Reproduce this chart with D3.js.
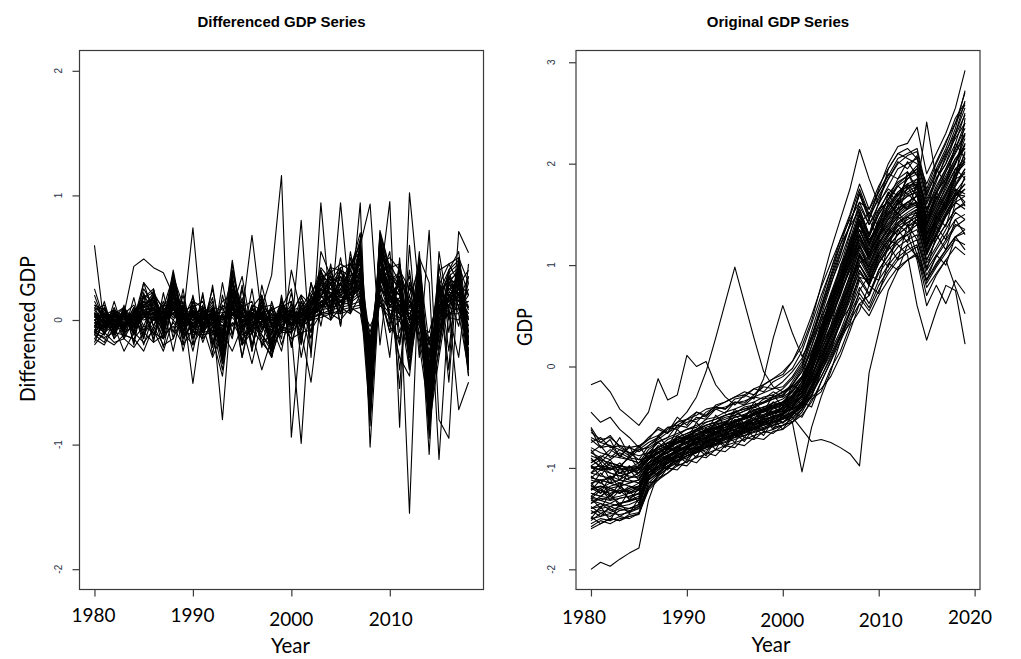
<!DOCTYPE html>
<html><head><meta charset="utf-8">
<script src="https://cdn.jsdelivr.net/npm/d3@7"></script>
<style>body{margin:0;background:#fff}</style>
</head><body>
<svg id="c" width="1021" height="659"></svg>
<script>
// ---------------- DATA ----------------
const diffYears = [1980,1981,1982,1983,1984,1985,1986,1987,1988,1989,1990,1991,1992,1993,1994,1995,1996,1997,1998,1999,2000,2001,2002,2003,2004,2005,2006,2007,2008,2009,2010,2011,2012,2013,2014,2015,2016,2017,2018];
const gdpYears = [1980,1981,1982,1983,1984,1985,1986,1987,1988,1989,1990,1991,1992,1993,1994,1995,1996,1997,1998,1999,2000,2001,2002,2003,2004,2005,2006,2007,2008,2009,2010,2011,2012,2013,2014,2015,2016,2017,2018,2019];

const diffTicks = [-2,-1,0,1,2];
const gdpTicks = [-2,-1,0,1,2,3];
const diffYearTicks = [1980,1990,2000,2010];
const gdpYearTicks = [1980,1990,2000,2010,2020];

// Differenced GDP series (one array per country)
const diffSeries = [
[0.05,-0.02,0.03,-0.05,0.02,0.15,0.10,0.00,0.25,0.02,0.05,-0.03,0.04,-0.10,0.20,0.00,0.03,-0.02,0.05,0.02,-0.05,0.03,0.08,0.20,0.25,0.22,0.30,0.45,-0.55,0.50,0.25,0.15,-0.05,0.20,-0.60,0.05,0.25,0.30,-0.10],
[-0.05,0.03,-0.04,0.02,-0.06,0.05,0.08,-0.05,0.15,-0.02,0.06,0.02,-0.05,0.05,0.12,-0.05,0.02,0.05,-0.08,0.04,0.02,-0.03,0.05,0.15,0.18,0.25,0.20,0.35,-0.40,0.40,0.18,0.05,0.10,0.05,-0.45,0.10,0.18,0.15,0.05],
[0.10,-0.05,0.00,0.04,-0.03,0.02,0.20,0.03,0.30,0.05,-0.04,0.06,0.02,-0.20,0.30,0.05,-0.05,0.04,-0.15,0.06,0.03,0.05,0.10,0.28,0.20,0.30,0.25,0.55,-0.70,0.60,0.30,0.20,-0.15,0.25,-0.75,-0.05,0.30,0.40,-0.25],
[-0.10,0.02,-0.06,-0.02,0.05,0.08,0.04,-0.02,0.10,0.00,0.02,-0.05,0.06,0.02,0.05,0.02,0.05,-0.04,0.02,-0.02,0.05,0.00,0.02,0.10,0.12,0.15,0.18,0.25,-0.25,0.30,0.10,0.12,0.02,0.10,-0.30,0.15,0.12,0.20,0.10],
[0.02,0.05,-0.02,0.03,-0.05,0.20,0.15,-0.06,0.35,-0.04,0.08,-0.02,0.05,-0.25,0.35,-0.03,0.06,0.00,-0.10,0.08,-0.02,0.04,0.12,0.35,0.30,0.35,0.28,0.60,-0.75,0.65,0.35,0.25,-0.10,0.30,-0.85,0.00,0.35,0.42,-0.30],
[-0.08,-0.06,0.04,-0.04,0.00,0.04,0.06,0.02,0.05,0.03,-0.02,0.03,0.00,0.04,0.08,0.04,-0.02,0.03,0.00,-0.04,0.02,0.05,0.04,0.08,0.10,0.12,0.14,0.20,-0.20,0.25,0.15,0.08,0.05,0.08,-0.25,0.08,0.15,0.12,0.15],
[0.15,0.00,-0.08,0.06,-0.02,0.10,0.12,-0.04,0.20,-0.06,0.04,0.05,-0.04,-0.15,0.25,0.03,0.05,-0.06,-0.05,0.00,0.04,-0.04,0.06,0.22,0.28,0.18,0.35,0.40,-0.60,0.55,0.20,0.30,-0.20,0.15,-0.70,0.12,0.22,0.35,-0.15],
[-0.02,-0.08,0.06,0.00,0.04,0.02,0.02,0.05,0.08,0.02,0.00,-0.04,0.03,0.00,0.05,-0.02,0.04,0.02,0.03,0.05,-0.03,0.02,0.03,0.05,0.08,0.10,0.12,0.15,-0.10,0.20,0.08,0.05,0.08,0.03,-0.20,0.05,0.10,0.08,0.20],
[0.00,0.06,-0.05,-0.08,0.06,0.12,0.18,-0.08,0.28,0.04,0.06,0.08,-0.02,-0.08,0.18,0.06,-0.04,0.02,-0.20,-0.02,0.06,0.06,0.15,0.30,0.15,0.28,0.22,0.50,-0.50,0.45,0.28,0.10,-0.08,0.28,-0.55,-0.10,0.28,0.28,-0.35],
[-0.12,0.04,0.02,0.06,-0.04,0.06,0.05,0.00,0.12,-0.03,0.03,0.00,0.06,-0.05,0.10,0.00,0.00,0.06,-0.04,0.02,0.00,0.02,0.04,0.12,0.15,0.20,0.15,0.30,-0.35,0.35,0.12,0.18,0.00,0.12,-0.40,0.18,0.20,0.18,0.00],
[0.08,-0.04,0.05,-0.06,0.03,0.18,0.22,-0.03,0.32,0.06,-0.06,0.04,0.08,-0.30,0.40,0.04,0.02,-0.03,-0.12,0.10,0.05,-0.02,0.10,0.25,0.35,0.28,0.40,0.62,-0.65,0.70,0.40,0.22,-0.25,0.35,-0.80,0.15,0.38,0.45,-0.40],
[-0.05,0.00,-0.03,0.05,0.02,0.00,0.03,0.04,0.05,-0.04,0.02,0.02,-0.03,0.03,0.04,0.03,0.04,0.00,0.04,0.02,0.03,0.00,0.00,0.06,0.05,0.08,0.10,0.12,-0.15,0.15,0.05,0.02,0.12,0.00,-0.15,0.02,0.05,0.05,0.25],
[0.03,0.02,0.06,0.02,-0.08,0.08,0.10,-0.05,0.18,0.00,0.08,-0.06,0.02,-0.12,0.22,-0.04,0.08,0.03,-0.06,0.04,-0.04,0.08,0.06,0.18,0.22,0.25,0.32,0.42,-0.45,0.48,0.22,0.28,-0.02,0.22,-0.50,-0.15,0.22,0.22,-0.20],
[-0.15,-0.03,0.00,-0.03,0.04,0.03,0.00,0.02,0.06,0.05,-0.03,0.06,0.04,0.06,0.06,0.05,-0.03,0.05,-0.02,0.00,0.06,0.04,0.02,0.04,0.06,0.05,0.08,0.10,-0.05,0.12,0.02,0.00,0.15,-0.05,-0.10,0.20,0.02,0.00,0.30],
[0.12,0.08,-0.06,0.08,0.00,0.25,0.12,-0.08,0.22,0.08,0.02,0.10,-0.06,-0.18,0.28,0.08,0.06,-0.05,-0.08,0.06,0.08,-0.06,0.14,0.32,0.25,0.38,0.30,0.50,-0.80,0.58,0.32,0.35,-0.18,0.40,-0.65,0.20,0.32,0.38,-0.45],
[-0.06,-0.06,0.02,0.00,0.06,0.05,0.08,0.06,0.10,-0.02,0.05,-0.02,0.02,0.02,0.08,0.02,0.02,0.04,0.02,0.00,0.00,0.06,0.08,0.14,0.18,0.16,0.22,0.28,-0.30,0.35,0.18,0.15,0.05,0.15,-0.35,0.05,0.15,0.25,0.08],
[0.06,-0.10,0.04,-0.02,-0.02,0.12,0.16,0.00,0.26,-0.05,-0.02,0.00,0.04,-0.22,0.32,0.00,-0.02,0.05,-0.18,0.08,-0.03,0.00,0.05,0.20,0.32,0.32,0.25,0.48,-0.62,0.62,0.28,0.12,-0.12,0.32,-0.70,-0.02,0.30,0.32,-0.28],
[-0.03,0.05,-0.08,0.03,-0.04,0.06,0.04,-0.03,0.14,0.03,0.00,0.03,0.00,-0.05,0.12,0.02,0.03,0.00,-0.03,0.05,0.02,0.03,0.06,0.15,0.20,0.18,0.20,0.32,-0.38,0.38,0.15,0.10,0.05,0.18,-0.42,0.10,0.18,0.22,0.02],
[0.20,-0.02,0.06,-0.04,0.02,0.18,0.25,-0.06,0.38,-0.02,0.06,-0.05,0.08,-0.28,0.45,-0.05,0.04,-0.04,-0.22,0.06,0.04,0.06,0.10,0.38,0.28,0.40,0.35,0.65,-0.72,0.68,0.38,0.28,-0.22,0.38,-0.88,0.08,0.40,0.48,-0.38],
[-0.08,0.02,0.00,-0.06,0.00,0.02,0.02,0.02,0.08,0.01,0.04,-0.03,-0.02,0.01,0.06,0.00,0.06,0.02,-0.01,0.03,0.01,-0.02,0.04,0.10,0.12,0.14,0.16,0.22,-0.22,0.28,0.12,0.05,0.00,0.08,-0.28,0.12,0.12,0.12,0.12],
[0.05,0.03,-0.03,0.02,-0.06,0.10,0.14,0.02,0.22,0.04,-0.05,0.02,0.06,-0.10,0.16,0.04,-0.06,0.06,-0.10,0.02,-0.05,0.04,0.12,0.25,0.22,0.22,0.28,0.38,-0.58,0.42,0.25,0.20,-0.08,0.20,-0.62,0.08,0.25,0.28,-0.18],
[-0.02,-0.05,0.02,0.04,0.03,0.04,0.06,-0.02,0.12,-0.05,0.03,0.04,0.03,-0.02,0.08,-0.02,0.03,0.03,0.00,0.04,0.04,0.03,0.05,0.12,0.14,0.18,0.18,0.26,-0.32,0.32,0.20,0.12,0.02,0.12,-0.38,0.12,0.15,0.20,0.05],
[0.02,0.10,-0.08,0.05,0.12,-0.05,0.15,0.05,0.12,-0.08,0.10,0.15,-0.10,0.12,0.05,0.15,-0.12,0.10,0.12,-0.05,0.08,0.10,-0.05,0.25,0.12,0.35,0.15,0.50,-0.45,0.35,0.45,-0.10,0.20,0.40,-0.50,0.25,0.30,0.15,0.35],
[-0.08,-0.12,0.05,-0.10,-0.05,0.08,-0.12,0.10,0.02,0.08,-0.12,-0.08,0.10,-0.20,0.05,-0.10,0.10,-0.12,-0.25,0.10,-0.08,0.05,0.18,0.05,0.30,0.10,0.40,0.25,-0.65,0.55,0.10,0.25,-0.35,0.10,-0.82,0.15,0.10,0.40,-0.20],
[0.04,-0.06,0.10,-0.08,0.06,0.20,0.08,-0.10,0.18,0.10,-0.08,0.02,0.12,-0.08,0.25,-0.08,0.12,0.08,-0.15,0.02,0.12,-0.08,0.10,0.40,0.20,0.30,0.45,0.35,-0.50,0.48,0.35,0.05,-0.20,0.45,-0.65,-0.25,0.35,0.25,-0.05],
[-0.18,0.00,-0.12,0.08,-0.08,0.02,0.10,-0.12,0.25,-0.10,0.12,-0.10,-0.08,-0.20,0.30,-0.12,-0.08,0.12,-0.20,0.12,-0.12,0.15,0.00,0.18,0.35,0.20,0.25,0.55,-0.72,0.60,0.15,0.32,0.15,0.05,-0.70,0.22,0.05,0.35,-0.30],
[0.10,0.05,0.02,-0.10,0.08,0.10,0.22,0.08,0.15,0.06,0.12,-0.08,0.10,0.08,0.12,0.10,0.15,-0.08,0.08,0.12,0.05,0.20,0.12,0.30,0.42,0.40,0.35,0.30,-0.20,0.45,0.50,0.40,0.25,0.15,-0.30,0.40,0.45,0.30,0.20],
[-0.10,-0.14,-0.10,-0.12,-0.15,-0.05,-0.10,-0.15,-0.02,-0.12,-0.05,-0.12,-0.10,-0.25,-0.02,-0.15,-0.08,-0.18,-0.28,-0.05,-0.15,-0.10,-0.08,0.05,0.00,0.10,0.05,0.20,-0.55,0.20,-0.10,0.00,-0.25,0.05,-0.78,-0.05,0.05,0.10,-0.25],
[0.00,0.04,0.08,0.03,0.00,0.30,0.20,0.10,0.35,0.12,0.02,0.10,0.05,-0.15,0.38,0.10,0.00,0.12,-0.05,0.15,0.00,0.10,0.22,0.35,0.38,0.45,0.40,0.70,-0.68,0.72,0.42,0.45,0.00,0.42,-0.72,0.28,0.45,0.50,-0.15],
[-0.04,-0.10,-0.04,-0.06,0.10,-0.08,0.00,0.00,0.05,-0.08,0.00,0.08,-0.12,0.00,0.02,-0.08,0.00,-0.10,0.10,-0.08,0.08,-0.05,0.00,0.02,0.05,0.00,0.10,0.05,-0.40,0.15,-0.05,-0.15,0.20,-0.10,-0.55,-0.10,0.20,-0.05,0.35],
[0.06,-0.02,-0.10,0.10,-0.10,0.15,0.05,0.12,0.20,-0.10,0.10,0.00,0.15,-0.35,0.15,0.12,-0.10,0.15,-0.30,0.18,-0.06,0.18,0.05,0.25,0.15,0.35,0.20,0.60,-0.85,0.50,0.25,0.10,-0.40,0.30,-0.95,0.05,0.28,0.20,-0.45],
[-0.06,0.08,0.00,0.00,-0.02,0.12,0.18,-0.02,0.40,0.00,0.06,0.02,0.10,-0.15,0.48,-0.02,0.10,0.02,-0.12,0.12,0.02,0.08,0.18,0.42,0.32,0.42,0.45,0.55,-0.58,0.65,0.32,0.38,0.10,0.48,-0.60,0.22,0.40,0.55,-0.10],
[0.03,-0.08,0.02,0.10,0.00,0.05,-0.08,0.08,0.00,0.12,-0.10,0.08,0.00,0.10,-0.05,0.12,-0.05,0.06,0.08,-0.10,0.10,0.00,0.05,0.10,0.20,0.05,0.30,0.15,-0.25,0.28,0.05,-0.20,0.30,0.10,-0.20,0.30,0.00,0.28,0.40],
[-0.12,-0.04,0.04,-0.08,0.04,-0.12,0.02,-0.15,0.10,-0.12,-0.10,-0.12,0.05,-0.32,0.10,-0.20,-0.05,-0.12,-0.22,-0.08,-0.10,0.00,0.06,0.20,0.08,0.15,0.12,0.38,-0.70,0.38,0.05,-0.30,-0.45,0.25,-0.85,-0.30,0.20,0.05,-0.40],
[0.05,-0.12,0.15,-0.10,0.18,-0.15,0.25,-0.12,0.30,-0.20,0.20,-0.15,0.28,-0.25,0.32,-0.18,0.25,-0.22,0.15,-0.10,0.22,-0.18,0.30,0.05,0.45,-0.05,0.55,0.10,-0.40,0.60,-0.05,0.45,-0.20,0.55,-0.45,0.30,0.10,0.45,-0.20],
[-0.10,0.15,-0.12,0.12,-0.20,0.20,-0.18,0.22,-0.15,0.25,-0.20,0.22,-0.28,0.20,-0.12,0.28,-0.25,0.18,-0.30,0.20,-0.22,0.15,-0.10,0.40,0.00,0.42,0.05,0.58,-0.70,0.30,0.55,-0.20,0.40,-0.15,-0.60,0.45,-0.10,0.50,-0.35],
[0.00,-0.05,0.05,0.10,-0.10,0.30,0.05,-0.15,0.28,-0.12,0.15,0.10,-0.18,0.05,0.35,-0.20,0.10,0.20,-0.25,0.10,0.15,-0.15,0.20,0.25,0.30,0.10,0.35,0.45,-0.30,0.50,0.15,0.30,-0.30,0.35,-0.55,0.20,0.35,0.10,0.15],
[-0.05,0.05,-0.15,-0.05,0.10,-0.10,0.15,0.00,0.05,0.15,-0.15,0.00,0.18,-0.30,0.05,0.10,-0.20,0.00,0.10,-0.20,0.05,0.20,-0.10,0.30,0.25,0.15,0.25,0.50,-0.60,0.40,0.35,0.05,0.25,0.15,-0.72,-0.10,0.30,0.25,0.00],
[0.12,0.00,0.08,-0.15,0.00,0.12,-0.05,0.12,0.10,0.00,0.18,-0.10,0.00,0.15,0.20,-0.05,0.00,0.15,0.00,0.08,-0.05,0.00,0.15,0.10,0.20,0.30,0.10,0.40,-0.15,0.35,0.25,0.20,0.35,-0.05,-0.35,0.25,0.15,0.30,0.10],
[-0.02,0.00,-0.05,0.05,-0.12,0.08,0.02,-0.08,0.18,-0.15,-0.02,-0.10,0.10,-0.18,0.22,-0.12,-0.05,0.02,-0.18,-0.05,-0.08,0.05,0.00,0.15,0.10,0.25,0.15,0.35,-0.78,0.52,0.20,0.05,-0.18,0.22,-0.82,-0.20,0.18,0.35,-0.35],
[0.60,-0.05,0.05,-0.02,0.02,0.05,0.00,0.06,0.04,0.02,0.74,-0.10,0.05,0.00,0.10,0.05,0.68,0.02,0.00,0.05,-0.05,0.10,0.02,0.10,0.20,0.15,0.25,0.40,-0.30,0.35,0.20,0.15,0.10,0.25,-0.50,0.10,0.25,0.20,0.10],
[0.25,0.00,-0.12,0.05,0.43,0.49,0.42,0.38,0.20,0.10,-0.51,0.05,0.02,-0.80,0.20,0.00,-0.05,0.10,0.36,1.16,-0.94,-0.05,0.10,0.20,0.10,0.30,0.15,0.30,-0.40,0.40,0.20,0.00,0.10,0.15,-0.60,0.00,0.20,0.25,0.00],
[-0.20,-0.10,-0.18,-0.15,-0.22,-0.10,-0.18,-0.12,-0.05,-0.20,-0.08,-0.15,-0.05,-0.40,0.15,-0.20,-0.10,-0.40,-0.15,-0.05,-0.10,0.80,-0.30,0.94,0.05,0.94,0.10,0.94,-1.02,0.30,0.95,-0.86,1.02,0.20,-1.08,0.30,-0.40,0.71,0.54],
[-0.15,-0.20,-0.05,-0.25,-0.10,-0.18,-0.08,-0.25,0.00,-0.10,-0.20,-0.05,-0.30,-0.10,-0.25,-0.05,-0.35,0.00,-0.20,-0.10,-0.10,-0.99,0.20,0.10,0.30,0.20,0.45,0.60,0.93,-0.20,0.45,0.30,-1.55,0.50,0.30,-1.12,0.10,-0.72,-0.50],
[-0.10,-0.15,-0.20,-0.12,-0.15,-0.25,-0.05,-0.20,-0.15,0.05,-0.25,0.10,-0.15,-0.45,0.15,-0.30,0.05,-0.15,-0.30,0.00,0.05,-0.10,-0.50,0.15,0.05,0.40,0.20,0.55,-0.60,0.65,0.30,-0.55,0.60,-0.30,0.72,-0.80,-0.95,0.40,-0.40],
[0.00,-0.08,0.08,-0.12,0.05,-0.15,0.20,-0.10,0.10,-0.15,0.15,-0.05,0.25,-0.15,0.10,0.35,-0.10,0.20,-0.05,0.10,0.25,-0.30,0.10,0.40,0.10,0.50,0.05,0.60,-0.35,0.20,-0.30,0.50,-0.40,0.45,-0.20,0.30,-0.50,0.50,0.30],
[-0.05,0.10,-0.15,0.08,-0.12,0.06,-0.15,0.10,-0.25,0.12,-0.10,0.20,-0.20,0.05,-0.15,0.25,-0.20,0.10,0.05,-0.15,0.40,0.05,-0.25,0.55,0.35,-0.05,0.50,0.20,-0.80,0.30,0.40,-0.40,0.30,-0.20,-0.75,0.55,0.05,-0.30,0.45],
[-0.12,-0.18,0.00,-0.15,0.08,-0.20,0.05,-0.22,0.15,-0.25,0.08,-0.18,0.02,-0.35,0.22,-0.30,0.12,-0.20,-0.10,0.15,-0.20,0.12,-0.15,0.35,0.00,0.25,0.40,0.20,-0.45,0.55,0.00,0.35,-0.30,0.40,-0.40,-0.20,0.40,0.10,-0.10],
[0.08,0.12,-0.10,0.10,-0.18,0.22,-0.05,0.15,-0.10,0.20,-0.15,0.12,-0.22,0.30,-0.12,0.18,-0.25,0.28,-0.05,-0.25,0.15,-0.20,0.30,-0.05,0.40,0.05,0.45,0.30,-0.20,0.25,-0.10,0.40,0.15,0.00,-0.60,0.35,-0.25,0.45,0.20]
];

// Original GDP series (one array per country)
const gdpSeries = [
[-1.45,-1.42,-1.44,-1.40,-1.43,-1.38,-1.10,-1.02,-0.95,-0.90,-0.86,-0.82,-0.80,-0.74,-0.70,-0.68,-0.62,-0.60,-0.55,-0.52,-0.48,-0.40,-0.30,-0.10,0.15,0.38,0.62,0.90,1.30,1.05,1.25,1.40,1.52,1.60,1.62,1.20,1.45,1.65,1.85,2.05],
[-1.20,-1.18,-1.22,-1.25,-1.20,-1.15,-1.00,-0.93,-0.88,-0.82,-0.78,-0.75,-0.70,-0.68,-0.64,-0.60,-0.58,-0.53,-0.50,-0.46,-0.44,-0.38,-0.28,-0.02,0.28,0.55,0.80,1.10,1.45,1.20,1.42,1.58,1.70,1.78,1.80,1.40,1.60,1.82,2.00,2.20],
[-0.95,-0.90,-0.98,-1.00,-1.02,-1.05,-0.95,-0.90,-0.84,-0.78,-0.74,-0.70,-0.68,-0.64,-0.60,-0.57,-0.55,-0.50,-0.47,-0.44,-0.42,-0.36,-0.26,-0.08,0.10,0.30,0.52,0.78,1.05,0.88,1.10,1.25,1.38,1.45,1.50,1.15,1.35,1.52,1.68,1.75],
[-1.55,-1.50,-1.52,-1.48,-1.50,-1.45,-1.18,-1.08,-1.00,-0.94,-0.90,-0.85,-0.82,-0.78,-0.75,-0.72,-0.68,-0.65,-0.62,-0.58,-0.55,-0.50,-0.42,-0.25,-0.02,0.20,0.45,0.70,0.95,0.80,1.02,1.18,1.30,1.38,1.42,1.05,1.25,1.40,1.55,1.62],
[-1.05,-1.08,-1.10,-1.05,-1.08,-1.10,-0.98,-0.90,-0.85,-0.80,-0.74,-0.72,-0.66,-0.62,-0.58,-0.55,-0.50,-0.48,-0.42,-0.38,-0.35,-0.25,-0.12,0.12,0.40,0.68,0.95,1.25,1.55,1.30,1.55,1.70,1.82,1.88,1.95,1.55,1.78,1.95,2.15,2.35],
[-1.30,-1.32,-1.28,-1.35,-1.32,-1.28,-1.05,-0.98,-0.92,-0.86,-0.82,-0.80,-0.76,-0.72,-0.70,-0.66,-0.64,-0.60,-0.58,-0.55,-0.52,-0.48,-0.40,-0.22,0.00,0.22,0.42,0.65,0.88,0.72,0.95,1.10,1.22,1.30,1.35,0.98,1.15,1.30,1.45,1.50],
[-0.80,-0.85,-0.88,-0.90,-0.92,-0.95,-0.88,-0.82,-0.78,-0.72,-0.68,-0.66,-0.62,-0.58,-0.55,-0.50,-0.48,-0.44,-0.40,-0.38,-0.35,-0.28,-0.18,0.05,0.30,0.55,0.82,1.08,1.35,1.15,1.35,1.50,1.60,1.68,1.72,1.38,1.58,1.75,1.95,2.05],
[-1.40,-1.38,-1.35,-1.38,-1.36,-1.32,-1.12,-1.05,-0.98,-0.92,-0.88,-0.84,-0.80,-0.77,-0.72,-0.70,-0.65,-0.62,-0.58,-0.54,-0.50,-0.44,-0.34,-0.15,0.08,0.30,0.55,0.82,1.12,0.95,1.18,1.32,1.45,1.52,1.58,1.22,1.42,1.60,1.78,1.92],
[-1.15,-1.12,-1.10,-1.15,-1.18,-1.20,-1.02,-0.95,-0.90,-0.85,-0.80,-0.76,-0.73,-0.70,-0.66,-0.62,-0.60,-0.56,-0.52,-0.50,-0.46,-0.42,-0.35,-0.20,0.02,0.25,0.50,0.75,1.00,0.85,1.08,1.25,1.35,1.42,1.48,1.12,1.32,1.50,1.68,1.80],
[-1.00,-1.02,-1.05,-1.08,-1.05,-1.02,-0.92,-0.86,-0.80,-0.76,-0.72,-0.68,-0.64,-0.60,-0.58,-0.54,-0.50,-0.46,-0.44,-0.40,-0.36,-0.30,-0.20,0.00,0.22,0.48,0.72,1.00,1.28,1.08,1.30,1.46,1.56,1.62,1.68,1.30,1.52,1.70,1.88,2.10],
[-1.25,-1.28,-1.30,-1.28,-1.25,-1.22,-1.05,-0.96,-0.90,-0.84,-0.80,-0.77,-0.74,-0.70,-0.68,-0.64,-0.62,-0.58,-0.55,-0.52,-0.50,-0.45,-0.38,-0.22,-0.05,0.12,0.32,0.55,0.78,0.62,0.85,1.00,1.12,1.20,1.25,0.90,1.08,1.22,1.38,1.45],
[-1.50,-1.48,-1.45,-1.46,-1.44,-1.40,-1.15,-1.06,-0.98,-0.93,-0.88,-0.83,-0.79,-0.76,-0.72,-0.68,-0.64,-0.60,-0.56,-0.52,-0.47,-0.40,-0.28,-0.05,0.22,0.48,0.75,1.05,1.40,1.15,1.38,1.52,1.65,1.72,1.78,1.40,1.62,1.80,2.00,2.25],
[-0.70,-0.75,-0.78,-0.82,-0.85,-0.88,-0.85,-0.80,-0.76,-0.72,-0.68,-0.64,-0.60,-0.57,-0.54,-0.50,-0.47,-0.43,-0.40,-0.36,-0.32,-0.25,-0.12,0.10,0.38,0.65,0.92,1.20,1.50,1.28,1.50,1.65,1.78,1.85,1.90,1.52,1.72,1.92,2.12,2.30],
[-1.35,-1.30,-1.32,-1.30,-1.28,-1.25,-1.08,-1.00,-0.94,-0.88,-0.84,-0.80,-0.77,-0.73,-0.70,-0.67,-0.63,-0.60,-0.57,-0.54,-0.51,-0.46,-0.40,-0.28,-0.10,0.10,0.30,0.52,0.72,0.58,0.80,0.95,1.08,1.15,1.20,0.85,1.00,1.15,1.28,1.32],
[-1.10,-1.12,-1.15,-1.12,-1.14,-1.12,-0.96,-0.89,-0.84,-0.79,-0.75,-0.71,-0.68,-0.65,-0.62,-0.58,-0.55,-0.52,-0.48,-0.45,-0.41,-0.34,-0.22,0.02,0.32,0.60,0.88,1.15,1.45,1.22,1.45,1.60,1.72,1.80,1.85,1.48,1.70,1.88,2.05,2.15],
[-1.45,-1.40,-1.38,-1.42,-1.40,-1.36,-1.10,-1.02,-0.96,-0.90,-0.86,-0.81,-0.78,-0.74,-0.71,-0.68,-0.65,-0.61,-0.58,-0.55,-0.52,-0.47,-0.38,-0.18,0.05,0.28,0.50,0.78,1.08,0.90,1.12,1.28,1.40,1.48,1.52,1.18,1.38,1.55,1.72,1.85],
[-0.88,-0.92,-0.95,-0.98,-1.00,-1.00,-0.92,-0.85,-0.80,-0.75,-0.71,-0.68,-0.65,-0.61,-0.58,-0.55,-0.52,-0.48,-0.45,-0.42,-0.38,-0.30,-0.15,0.08,0.35,0.60,0.85,1.12,1.42,1.18,1.40,1.55,1.68,1.75,1.80,1.42,1.65,1.82,2.00,2.30],
[-1.20,-1.22,-1.25,-1.22,-1.24,-1.20,-1.00,-0.94,-0.88,-0.83,-0.79,-0.75,-0.72,-0.69,-0.65,-0.62,-0.59,-0.55,-0.52,-0.49,-0.46,-0.42,-0.36,-0.25,-0.10,0.08,0.28,0.48,0.68,0.55,0.75,0.92,1.05,1.12,1.18,0.82,0.98,1.12,1.25,1.20],
[-1.32,-1.35,-1.38,-1.35,-1.33,-1.30,-1.08,-0.99,-0.93,-0.87,-0.82,-0.78,-0.75,-0.71,-0.68,-0.65,-0.61,-0.58,-0.54,-0.50,-0.46,-0.38,-0.25,-0.02,0.25,0.52,0.78,1.05,1.35,1.12,1.35,1.50,1.62,1.70,1.75,1.35,1.55,1.72,1.90,2.00],
[-1.00,-0.98,-1.00,-1.02,-1.00,-0.98,-0.90,-0.84,-0.79,-0.74,-0.70,-0.67,-0.63,-0.60,-0.56,-0.53,-0.50,-0.46,-0.42,-0.39,-0.35,-0.28,-0.15,0.05,0.28,0.50,0.72,0.95,1.20,1.02,1.22,1.38,1.50,1.58,1.62,1.25,1.45,1.62,1.80,1.95],
[-0.60,-0.75,-0.68,-0.80,-0.85,-0.92,-0.90,-0.78,-0.82,-0.70,-0.72,-0.62,-0.66,-0.55,-0.58,-0.45,-0.50,-0.40,-0.44,-0.35,-0.38,-0.22,-0.10,0.20,0.45,0.72,0.98,1.30,1.62,1.40,1.60,1.78,1.95,2.00,2.05,1.65,1.85,2.05,2.30,2.55],
[-1.48,-1.55,-1.50,-1.52,-1.46,-1.44,-1.15,-1.12,-1.00,-1.02,-0.92,-0.95,-0.85,-0.88,-0.78,-0.80,-0.70,-0.72,-0.64,-0.66,-0.58,-0.55,-0.48,-0.35,-0.15,0.05,0.25,0.45,0.62,0.50,0.70,0.85,0.98,1.05,1.10,0.78,0.92,1.05,1.18,1.10],
[-1.18,-1.05,-1.15,-1.00,-1.10,-1.05,-0.88,-0.92,-0.80,-0.84,-0.70,-0.75,-0.62,-0.68,-0.55,-0.60,-0.48,-0.52,-0.42,-0.46,-0.40,-0.32,-0.20,0.00,0.26,0.52,0.78,1.02,1.30,1.10,1.32,1.48,1.60,1.68,1.72,1.32,1.50,1.68,1.85,1.90],
[-1.28,-1.20,-1.32,-1.22,-1.30,-1.25,-0.98,-1.02,-0.88,-0.94,-0.80,-0.85,-0.72,-0.78,-0.66,-0.70,-0.60,-0.64,-0.55,-0.58,-0.50,-0.45,-0.36,-0.18,0.05,0.30,0.58,0.85,1.18,1.00,1.20,1.36,1.48,1.55,1.60,1.25,1.42,1.58,1.75,1.70],
[-0.90,-1.00,-0.92,-1.05,-0.98,-1.08,-0.95,-0.88,-0.92,-0.80,-0.82,-0.72,-0.75,-0.65,-0.68,-0.58,-0.62,-0.52,-0.55,-0.48,-0.50,-0.42,-0.32,-0.12,0.12,0.35,0.60,0.88,1.15,0.98,1.20,1.35,1.48,1.56,1.62,1.28,1.48,1.65,1.82,2.45],
[-1.38,-1.45,-1.40,-1.48,-1.42,-1.40,-1.20,-1.10,-1.05,-0.96,-0.98,-0.88,-0.90,-0.82,-0.84,-0.76,-0.78,-0.70,-0.72,-0.64,-0.62,-0.55,-0.45,-0.28,-0.05,0.18,0.42,0.68,0.95,0.80,1.02,1.18,1.30,1.38,1.45,1.10,1.30,1.48,1.62,1.68],
[-1.08,-1.15,-1.20,-1.18,-1.25,-1.22,-1.05,-0.98,-0.92,-0.88,-0.82,-0.80,-0.75,-0.72,-0.70,-0.66,-0.62,-0.60,-0.56,-0.52,-0.48,-0.40,-0.28,-0.05,0.20,0.46,0.70,0.98,1.25,1.05,1.28,1.42,1.55,1.62,1.68,1.32,1.52,1.70,1.90,2.20],
[-1.58,-1.52,-1.55,-1.50,-1.48,-1.45,-1.22,-1.12,-1.05,-0.98,-0.94,-0.90,-0.86,-0.82,-0.78,-0.75,-0.72,-0.68,-0.65,-0.62,-0.58,-0.52,-0.42,-0.22,0.00,0.22,0.45,0.72,1.00,0.85,1.05,1.22,1.35,1.42,1.48,1.12,1.32,1.50,1.65,1.75],
[-0.75,-0.70,-0.80,-0.78,-0.85,-0.82,-0.80,-0.74,-0.70,-0.66,-0.62,-0.58,-0.55,-0.52,-0.48,-0.45,-0.42,-0.38,-0.35,-0.30,-0.26,-0.18,-0.05,0.20,0.50,0.80,1.10,1.40,1.70,1.45,1.68,1.85,2.00,2.08,2.12,1.72,1.95,2.15,2.40,2.70],
[-1.22,-1.18,-1.20,-1.24,-1.22,-1.18,-0.98,-0.92,-0.87,-0.83,-0.78,-0.74,-0.71,-0.67,-0.63,-0.60,-0.57,-0.53,-0.50,-0.47,-0.44,-0.38,-0.30,-0.14,0.08,0.32,0.56,0.82,1.10,0.92,1.15,1.30,1.42,1.50,1.55,1.18,1.40,1.58,1.75,1.58],
[-0.85,-0.78,-0.90,-0.82,-0.88,-0.80,-0.70,-0.62,-0.66,-0.55,-0.52,-0.45,-0.48,-0.38,-0.35,-0.30,-0.25,-0.28,-0.18,-0.12,-0.08,0.05,0.25,0.50,0.78,1.02,1.25,1.45,1.62,1.55,1.72,1.90,1.85,2.02,1.88,1.60,1.82,2.08,2.25,2.40],
[-1.10,-1.02,-0.95,-0.98,-0.90,-0.92,-0.78,-0.70,-0.60,-0.62,-0.52,-0.55,-0.45,-0.40,-0.42,-0.32,-0.30,-0.22,-0.25,-0.15,-0.10,-0.02,0.15,0.42,0.70,0.95,1.20,1.38,1.55,1.30,1.62,1.75,1.68,1.85,1.95,1.45,1.70,1.92,2.10,2.28],
[-0.72,-0.80,-0.78,-0.88,-0.92,-0.95,-0.82,-0.75,-0.70,-0.58,-0.60,-0.50,-0.52,-0.42,-0.46,-0.35,-0.36,-0.28,-0.20,-0.22,-0.15,-0.05,0.08,0.30,0.55,0.82,1.05,1.32,1.58,1.40,1.55,1.62,1.78,1.70,1.62,1.35,1.55,1.78,1.95,2.02],
[-1.35,-1.28,-1.20,-1.25,-1.18,-1.22,-1.02,-0.88,-0.82,-0.72,-0.70,-0.62,-0.58,-0.55,-0.48,-0.45,-0.42,-0.40,-0.32,-0.30,-0.25,-0.18,-0.05,0.15,0.40,0.65,0.88,1.10,1.35,1.12,1.28,1.45,1.62,1.55,1.70,1.25,1.48,1.62,1.85,2.12],
[-1.52,-1.45,-1.48,-1.42,-1.40,-1.38,-1.08,-0.95,-0.90,-0.82,-0.80,-0.72,-0.70,-0.65,-0.60,-0.55,-0.52,-0.45,-0.42,-0.40,-0.35,-0.30,-0.22,-0.08,0.12,0.32,0.58,0.80,1.02,1.08,1.22,1.35,1.30,1.48,1.40,1.02,1.18,1.35,1.52,1.45],
[-0.98,-0.92,-1.02,-0.95,-1.05,-0.98,-0.85,-0.80,-0.72,-0.68,-0.62,-0.60,-0.52,-0.50,-0.45,-0.42,-0.38,-0.35,-0.30,-0.28,-0.22,-0.12,0.02,0.28,0.58,0.88,1.15,1.40,1.72,1.48,1.65,1.85,2.02,1.95,2.08,1.68,1.92,2.12,2.30,2.62],
[-1.42,-1.48,-1.38,-1.35,-1.32,-1.30,-1.05,-0.98,-0.88,-0.84,-0.78,-0.72,-0.70,-0.62,-0.60,-0.56,-0.50,-0.48,-0.44,-0.40,-0.38,-0.33,-0.25,-0.15,0.00,0.15,0.35,0.60,0.88,0.85,1.05,1.22,1.40,1.32,1.45,1.15,1.28,1.48,1.62,1.88],
[-1.20,-1.25,-1.18,-1.15,-1.10,-1.08,-0.92,-0.82,-0.78,-0.70,-0.66,-0.62,-0.55,-0.52,-0.48,-0.46,-0.40,-0.38,-0.35,-0.30,-0.28,-0.20,-0.10,0.10,0.35,0.62,0.90,1.18,1.48,1.25,1.35,1.55,1.72,1.80,1.68,1.30,1.45,1.60,1.78,1.95],
[-0.92,-0.98,-1.05,-1.08,-1.12,-1.15,-1.00,-0.90,-0.82,-0.75,-0.68,-0.64,-0.58,-0.55,-0.52,-0.48,-0.44,-0.40,-0.36,-0.32,-0.30,-0.24,-0.12,0.08,0.32,0.56,0.80,1.02,1.25,1.12,1.28,1.40,1.52,1.62,1.58,1.22,1.42,1.58,1.70,1.68],
[-1.60,-1.55,-1.50,-1.52,-1.48,-1.46,-1.20,-1.08,-1.00,-0.95,-0.88,-0.85,-0.80,-0.76,-0.70,-0.66,-0.62,-0.58,-0.52,-0.50,-0.45,-0.42,-0.38,-0.30,-0.22,-0.10,0.10,0.35,0.62,0.70,0.92,1.05,1.18,1.25,1.30,0.95,1.10,1.25,1.40,1.35],
[-1.28,-1.32,-1.35,-1.30,-1.28,-1.26,-1.10,-1.00,-0.95,-0.88,-0.85,-0.78,-0.75,-0.70,-0.66,-0.62,-0.58,-0.55,-0.48,-0.45,-0.40,-0.32,-0.20,0.05,0.32,0.60,0.85,1.15,1.42,1.25,1.40,1.52,1.65,1.75,1.85,1.55,1.72,1.85,2.05,2.18],
[-0.65,-0.72,-0.70,-0.78,-0.80,-0.84,-0.78,-0.72,-0.65,-0.60,-0.55,-0.52,-0.48,-0.42,-0.40,-0.36,-0.34,-0.30,-0.26,-0.22,-0.20,-0.10,0.05,0.35,0.65,0.95,1.25,1.50,1.80,1.55,1.78,1.95,2.10,2.15,2.05,1.80,2.02,2.22,2.40,2.58],
[-1.05,-0.95,-1.12,-1.00,-0.88,-1.02,-0.85,-0.92,-0.75,-0.82,-0.68,-0.78,-0.60,-0.72,-0.55,-0.65,-0.48,-0.58,-0.40,-0.52,-0.35,-0.42,-0.20,0.10,0.35,0.70,0.88,1.25,1.40,1.52,1.38,1.70,1.55,1.92,1.70,1.48,1.95,1.80,2.20,2.05],
[-1.30,-1.40,-1.25,-1.38,-1.22,-1.35,-1.00,-1.08,-0.90,-0.98,-0.80,-0.90,-0.72,-0.82,-0.65,-0.75,-0.60,-0.70,-0.52,-0.62,-0.48,-0.55,-0.42,-0.30,-0.05,0.15,0.45,0.58,0.92,0.82,1.10,0.98,1.35,1.22,1.50,1.10,1.38,1.25,1.62,1.55],
[-0.82,-0.95,-0.85,-0.70,-0.88,-0.78,-0.92,-0.68,-0.80,-0.62,-0.72,-0.55,-0.66,-0.48,-0.58,-0.42,-0.52,-0.35,-0.45,-0.28,-0.40,-0.18,-0.25,0.15,0.30,0.68,0.80,1.15,1.30,1.45,1.25,1.62,1.50,1.78,1.60,1.38,1.72,1.58,1.95,1.85],
[-1.50,-1.38,-1.52,-1.35,-1.45,-1.30,-1.12,-0.95,-1.02,-0.88,-0.95,-0.80,-0.88,-0.72,-0.80,-0.66,-0.74,-0.60,-0.68,-0.52,-0.62,-0.48,-0.35,-0.40,-0.15,0.05,0.30,0.42,0.75,0.90,0.85,1.20,1.05,1.40,1.25,0.95,1.30,1.15,1.45,1.30],
[-1.15,-1.25,-1.08,-1.20,-1.02,-1.12,-0.95,-0.85,-0.92,-0.78,-0.85,-0.68,-0.78,-0.60,-0.70,-0.55,-0.62,-0.45,-0.56,-0.40,-0.48,-0.30,-0.38,-0.05,0.20,0.40,0.75,0.95,1.22,1.08,1.40,1.30,1.65,1.55,1.80,1.40,1.68,1.55,1.90,2.02],
[-0.62,-0.80,-0.72,-0.90,-0.78,-0.98,-0.85,-0.75,-0.82,-0.68,-0.76,-0.62,-0.70,-0.55,-0.64,-0.48,-0.56,-0.42,-0.50,-0.35,-0.44,-0.28,-0.15,0.05,0.45,0.60,1.00,1.18,1.52,1.30,1.52,1.72,1.62,1.88,1.98,1.62,1.85,2.00,2.28,2.48],
[-1.22,-1.12,-1.28,-1.15,-1.32,-1.20,-1.05,-0.92,-1.00,-0.85,-0.92,-0.78,-0.85,-0.70,-0.78,-0.62,-0.70,-0.58,-0.64,-0.50,-0.56,-0.45,-0.50,-0.32,-0.25,-0.02,0.15,0.40,0.55,0.80,0.72,1.02,0.95,1.20,1.08,0.85,1.10,1.00,1.28,1.15],
[-0.98,-1.08,-0.95,-1.12,-0.98,-1.05,-0.90,-0.80,-0.86,-0.72,-0.78,-0.66,-0.72,-0.58,-0.66,-0.52,-0.60,-0.46,-0.52,-0.40,-0.45,-0.36,-0.25,-0.12,0.18,0.35,0.62,0.78,1.10,0.98,1.25,1.15,1.48,1.38,1.55,1.20,1.48,1.38,1.72,1.62],
[-2.00,-1.93,-1.97,-1.90,-1.84,-1.79,-1.32,-1.05,-0.95,-0.90,-0.86,-0.82,-0.78,-0.76,-0.72,-0.70,-0.66,-0.62,-0.60,-0.56,-0.52,-0.48,-0.40,-0.20,0.05,0.30,0.55,0.82,1.10,0.92,1.15,1.30,1.42,1.48,1.55,1.18,1.38,1.55,1.70,1.80],
[-0.95,-0.88,-0.92,-0.85,-0.90,-0.82,-0.75,-0.70,-0.62,-0.55,-0.45,-0.30,-0.05,0.28,0.63,0.98,0.63,0.28,-0.05,-0.20,-0.25,-0.20,-0.10,0.10,0.35,0.60,0.85,1.15,1.45,1.22,1.42,1.58,1.70,1.78,1.82,1.45,1.65,1.85,2.02,2.15],
[-0.18,-0.14,-0.25,-0.42,-0.50,-0.58,-0.45,-0.12,-0.33,-0.28,0.11,0.00,0.05,-0.18,-0.30,-0.38,-0.28,-0.32,-0.12,0.28,0.60,0.33,0.10,0.25,0.48,0.70,0.95,1.22,1.50,1.28,1.50,1.65,1.80,1.88,1.92,1.55,1.75,1.95,2.15,2.40],
[-1.30,-1.22,-1.28,-1.20,-1.25,-1.18,-0.95,-0.90,-0.82,-0.80,-0.74,-0.70,-0.72,-0.65,-0.62,-0.60,-0.55,-0.58,-0.52,-0.60,-0.58,-0.55,-1.04,-0.60,-0.30,-0.05,0.25,0.55,0.85,0.70,0.95,1.10,1.25,1.32,1.40,1.05,1.25,1.40,1.55,1.60],
[-1.12,-1.15,-1.08,-1.12,-1.05,-1.00,-0.92,-0.85,-0.80,-0.76,-0.72,-0.70,-0.66,-0.64,-0.60,-0.58,-0.56,-0.55,-0.52,-0.50,-0.55,-0.50,-0.62,-0.74,-0.72,-0.75,-0.80,-0.86,-0.98,-0.06,0.34,0.75,0.95,1.05,1.12,0.85,1.02,1.15,1.28,1.35],
[-0.85,-0.90,-0.82,-0.88,-0.80,-0.78,-0.72,-0.68,-0.60,-0.58,-0.52,-0.48,-0.42,-0.40,-0.35,-0.30,-0.28,-0.22,-0.18,-0.12,-0.05,0.05,0.20,0.45,0.80,1.15,1.45,1.75,2.14,1.85,1.60,1.95,2.10,2.05,2.00,1.70,1.90,2.10,2.35,2.72],
[-1.05,-1.00,-1.02,-0.98,-1.00,-0.95,-0.86,-0.80,-0.75,-0.70,-0.66,-0.62,-0.58,-0.55,-0.50,-0.48,-0.44,-0.40,-0.36,-0.32,-0.28,-0.18,-0.02,0.25,0.55,0.85,1.12,1.40,1.70,1.45,1.75,2.00,2.17,2.20,2.36,1.90,2.10,2.30,2.55,2.92],
[-1.18,-1.20,-1.15,-1.18,-1.15,-1.12,-0.98,-0.90,-0.85,-0.80,-0.76,-0.72,-0.70,-0.66,-0.62,-0.60,-0.56,-0.52,-0.50,-0.46,-0.42,-0.35,-0.22,0.00,0.30,0.58,0.85,1.12,1.40,1.20,1.45,1.65,1.85,1.92,1.75,2.41,1.85,2.00,2.20,2.50],
[-1.25,-1.28,-1.22,-1.25,-1.20,-1.18,-1.00,-0.94,-0.88,-0.84,-0.80,-0.76,-0.73,-0.70,-0.67,-0.64,-0.60,-0.57,-0.54,-0.50,-0.47,-0.40,-0.30,-0.10,0.15,0.40,0.65,0.90,1.20,0.95,1.12,1.25,1.20,1.10,0.60,0.26,0.55,0.80,0.75,0.22],
[-0.98,-1.02,-1.00,-1.05,-1.02,-1.00,-0.90,-0.84,-0.80,-0.75,-0.70,-0.68,-0.64,-0.60,-0.57,-0.54,-0.50,-0.47,-0.44,-0.41,-0.38,-0.30,-0.18,0.05,0.30,0.55,0.80,1.05,1.30,1.10,1.30,1.45,1.52,1.40,1.10,0.70,0.90,1.05,0.78,0.52],
[-1.40,-1.35,-1.42,-1.38,-1.40,-1.36,-1.12,-1.04,-0.98,-0.92,-0.88,-0.84,-0.80,-0.77,-0.74,-0.70,-0.68,-0.64,-0.61,-0.58,-0.55,-0.48,-0.38,-0.20,0.02,0.25,0.48,0.72,1.00,0.82,1.02,1.15,1.25,1.30,1.05,0.60,0.80,0.62,0.85,0.72],
[-0.45,-0.55,-0.50,-0.62,-0.70,-0.80,-0.72,-0.60,-0.65,-0.50,-0.58,-0.45,-0.50,-0.40,-0.42,-0.35,-0.38,-0.30,-0.32,-0.25,-0.30,-0.15,0.00,0.30,0.60,0.90,1.20,1.48,1.75,1.50,1.72,1.88,2.05,2.10,2.15,1.75,2.00,2.20,2.45,2.60]
];

// ---------------- DRAWING ----------------
const svg = d3.select('#c');
svg.append('rect').attr('width',1021).attr('height',659).attr('fill','#fff');

const BIG = "Lato, 'Open Sans', sans-serif";
const R_FONT = "'Liberation Sans', Arial, sans-serif";

function panel(o) {
  const x = d3.scaleLinear().domain(o.xDom).range([o.left, o.right]);
  const y = d3.scaleLinear().domain(o.yDom).range([o.bottom, o.top]);
  const g = svg.append('g');

  const line = d3.line().x((d,i)=>x(o.years[i])).y(d=>y(d));
  g.append('g').selectAll('path').data(o.series).join('path')
    .attr('d', line).attr('fill','none').attr('stroke','#000')
    .attr('stroke-width',1.1).attr('stroke-linejoin','round');

  g.append('rect').attr('x',o.left).attr('y',o.top)
    .attr('width',o.right-o.left).attr('height',o.bottom-o.top)
    .attr('fill','none').attr('stroke','#3a3a3a').attr('stroke-width',1.2);

  const ya = g.append('g').attr('transform',`translate(${o.left},0)`)
    .call(d3.axisLeft(y).tickValues(o.yTicks).tickSize(7).tickFormat(d3.format('d')));
  ya.select('.domain').remove();
  ya.selectAll('.tick line').attr('stroke','#3a3a3a').attr('stroke-width',1.2);
  ya.selectAll('.tick text').remove();
  g.append('g').selectAll('text').data(o.yTicks).join('text')
    .attr('transform', d=>`translate(${o.yLabX},${y(d)}) rotate(-90)`)
    .attr('text-anchor','middle').attr('font-family',R_FONT).attr('font-size',10)
    .attr('fill','#2a3346').text(d=>d);

  const xa = g.append('g').attr('transform',`translate(0,${o.bottom})`)
    .call(d3.axisBottom(x).tickValues(o.xTicks).tickSize(7).tickFormat(d3.format('d')));
  xa.select('.domain').remove();
  xa.selectAll('.tick line').attr('stroke','#3a3a3a').attr('stroke-width',1.2);
  xa.selectAll('.tick text').remove();
  g.append('g').selectAll('text').data(o.xTicks).join('text')
    .attr('x',(d,i)=>x(d)+o.xLabDx[i]).attr('y',(d,i)=>o.xLabY[i])
    .attr('text-anchor','middle').attr('font-family',BIG).attr('font-size',20)
    .attr('textLength',44).attr('lengthAdjust','spacingAndGlyphs')
    .attr('fill','#000').text(d=>d);

  g.append('text').attr('x',(o.left+o.right)/2).attr('y',26.5)
    .attr('text-anchor','middle').attr('font-family',R_FONT).attr('font-weight','bold')
    .attr('font-size',15).attr('fill','#000').text(o.title);

  g.append('text').attr('x',o.yearX).attr('y',o.yearY)
    .attr('text-anchor','middle').attr('font-family',BIG).attr('font-size',20.5)
    .attr('textLength',39).attr('lengthAdjust','spacingAndGlyphs')
    .attr('fill','#000').text('Year');

  g.append('text').attr('transform',`translate(${o.ylabX},${o.ylabY}) rotate(-90)`)
    .attr('text-anchor','middle').attr('font-family',BIG).attr('font-size',20.5)
    .attr('textLength',o.ylabLen).attr('lengthAdjust','spacingAndGlyphs')
    .attr('fill','#000').text(o.ylab);
}

panel({
  years: diffYears, series: diffSeries,
  xDom:[1978.48,2019.52], yDom:[-2.163,2.163],
  left:79.5, right:483.5, top:50.5, bottom:589.5,
  yTicks: diffTicks, xTicks: diffYearTicks, yLabX: 61.5,
  xLabDx:[-1,-0.5,0,1], xLabY:[621.5,621.5,626,626],
  title:'Differenced GDP Series', yearX:290.5, yearY:653,
  ylab:'Differenced GDP', ylabX:35, ylabY:329, ylabLen:146
});

panel({
  years: gdpYears, series: gdpSeries,
  xDom:[1978.44,2020.56], yDom:[-2.199,3.116],
  left:576, right:980, top:50.5, bottom:589.5,
  yTicks: gdpTicks, xTicks: gdpYearTicks, yLabX: 555,
  xLabDx:[-7,-3.3,-0.6,2,-4.6], xLabY:[624,624,626.5,627,624],
  title:'Original GDP Series', yearX:771, yearY:651.5,
  ylab:'GDP', ylabX:532, ylabY:327, ylabLen:38
});
</script>
</body></html>
